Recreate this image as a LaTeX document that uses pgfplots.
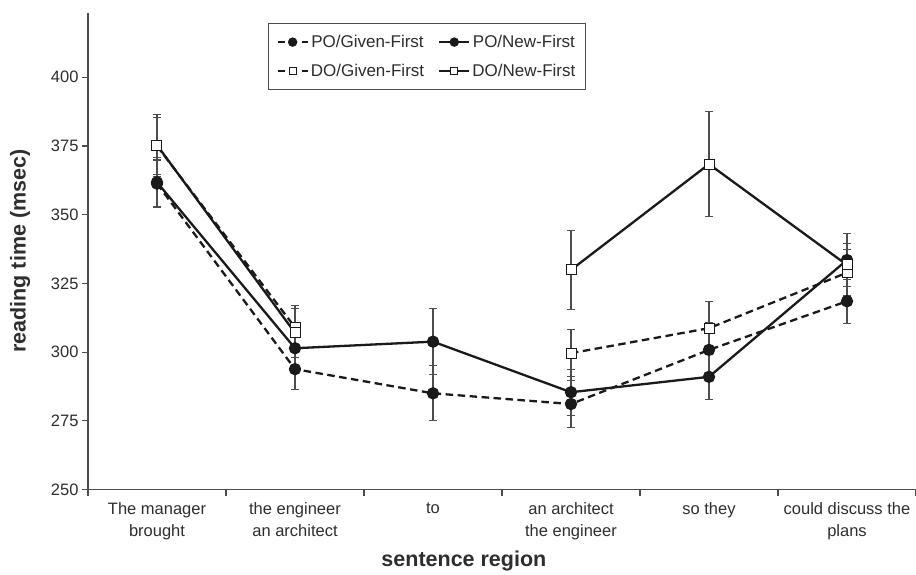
\documentclass[border=0pt]{standalone}
\usepackage{fontspec}
\setmainfont{Liberation Sans}
\usepackage{pgfplots}
\pgfplotsset{compat=1.18}
\definecolor{ln}{HTML}{1A1A1A}
\definecolor{ax}{HTML}{4D4D4D}
\definecolor{tx}{HTML}{2E2E2E}
\begin{document}
\begin{tikzpicture}
\path[use as bounding box] (0pt,0pt) rectangle (916pt,574pt);
\begin{axis}[
  at={(88pt,84.5pt)}, anchor=south west,
  width=828pt, height=476.8pt, scale only axis,
  xmin=-0.5, xmax=5.5, ymin=250, ymax=423.5,
  axis lines*=left,
  axis line style={ax, line width=1.1pt},
  ytick={250,275,...,400},
  xtick={0,...,5},
  xticklabels={{The manager\\brought},{the engineer\\an architect},{to},{an architect\\the engineer},{so they},{could discuss the\\plans}},
  xticklabel style={align=center, yshift=-4pt},
  major x tick style={draw=none},
  minor xtick={-0.5,0.5,...,5.5},
  tick align=outside, major tick length=6pt, minor tick length=6pt,
  every tick/.style={ax, line width=1.1pt},
  tick label style={font=\fontsize{16.5}{21.5}\selectfont, color=tx},
  /pgf/number format/assume math mode=true,
  ylabel={reading time (msec)},
  ylabel style={font=\fontsize{21.5}{25}\selectfont\bfseries, color=tx, at={(axis description cs:-0.0821,0.5)}, anchor=center, rotate=0},
  xlabel={sentence region},
  xlabel style={font=\fontsize{21.5}{25}\selectfont\bfseries, color=tx, at={(axis description cs:0.454,-0.150)}, anchor=center},
  legend columns=2,
  legend style={at={(axis description cs:0.2174,0.979)}, anchor=north west, draw=ax, line width=1pt,
    font=\fontsize{17}{20}\selectfont, text=tx, row sep=11pt, inner xsep=8pt, inner ysep=10pt,
    /tikz/every even column/.append style={column sep=12pt}},
  legend image code/.code={\draw[mark repeat=2,mark phase=2,#1,mark size=3.5pt] plot coordinates {(0pt,0pt) (15pt,0pt) (30pt,0pt)};},
  error bars/y dir=both, error bars/y explicit,
  error bars/error bar style={ax, line width=1.1pt, solid},
  error bars/error mark options={rotate=90, mark size=4pt, line width=1.1pt, ax},
]
% PO/Given-First
\addplot[ln, line width=2.3pt, dash pattern=on 7.5pt off 4.5pt, mark=*, mark size=5pt, mark options={solid, fill=ln}]
  coordinates {(0,361.3) +- (0,8.6) (1,293.8) +- (0,7.3) (2,285.0) +- (0,10.0) (3,281.1) +- (0,8.7) (4,300.8) +- (0,10.0) (5,318.5) +- (0,8.0)};
\addlegendentry{PO/Given-First}
% PO/New-First
\addplot[ln, line width=2.3pt, mark=*, mark size=5pt, mark options={solid, fill=ln}]
  coordinates {(0,361.8) +- (0,9.0) (1,301.4) +- (0,7.0) (2,303.8) +- (0,12.1) (3,285.4) +- (0,8.4) (4,291.0) +- (0,8.4) (5,333.5) +- (0,9.5)};
\addlegendentry{PO/New-First}
% DO/Given-First (segment 1)
\addplot[ln, line width=2.3pt, dash pattern=on 7.5pt off 4.5pt, mark=square*, mark size=5pt, mark options={solid, fill=white, draw=ln, line width=1pt}]
  coordinates {(0,375.0) +- (0,10.4) (1,309.0) +- (0,8.1)};
\addlegendentry{DO/Given-First}
% DO/New-First (segment 1)
\addplot[ln, line width=2.3pt, mark=square*, mark size=5pt, mark options={solid, fill=white, draw=ln, line width=1pt}]
  coordinates {(0,375.3) +- (0,11.3) (1,307.0) +- (0,9.0)};
\addlegendentry{DO/New-First}
% DO/Given-First (segment 2)
\addplot[forget plot, ln, line width=2.3pt, dash pattern=on 7.5pt off 4.5pt, mark=square*, mark size=5pt, mark options={solid, fill=white, draw=ln, line width=1pt}]
  coordinates {(3,299.6) +- (0,8.5) (4,308.7) +- (0,9.6) (5,328.9) +- (0,8.5)};
% DO/New-First (segment 2)
\addplot[forget plot, ln, line width=2.3pt, mark=square*, mark size=5pt, mark options={solid, fill=white, draw=ln, line width=1pt}]
  coordinates {(3,329.9) +- (0,14.5) (4,368.4) +- (0,19.0) (5,331.7) +- (0,7.9)};
\end{axis}
\end{tikzpicture}
\end{document}
